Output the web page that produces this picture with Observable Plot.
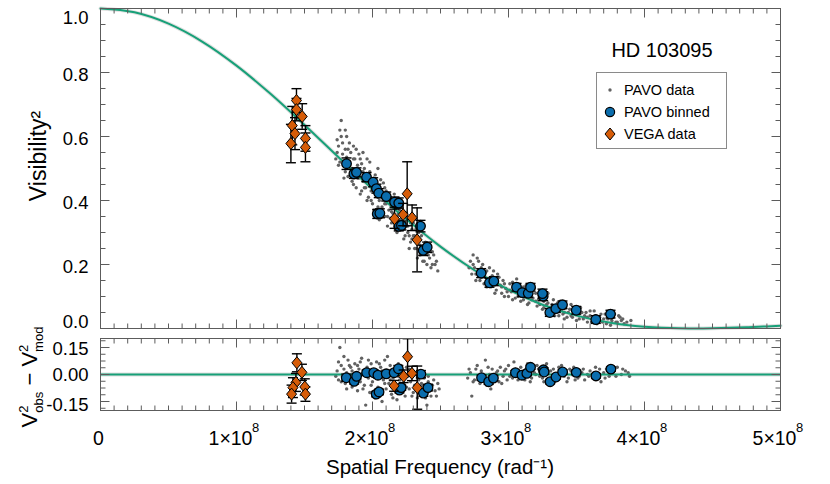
<!DOCTYPE html>
<html><head><meta charset="utf-8">
<script src="https://cdn.jsdelivr.net/npm/d3@7"></script>
<script src="https://cdn.jsdelivr.net/npm/@observablehq/plot@0.6"></script>
<style>
body{margin:0;background:#fff;}
#chart{width:830px;height:484px;position:relative;}
#chart svg{display:block;}
</style></head><body><div id="chart"></div>
<script>
// ---------- data (spatial frequency in units of 1e8 rad^-1) ----------
const xTickValues = [0, 1, 2, 3, 4, 5];
const xTickMantissa = ["0", "1×10", "2×10", "3×10", "4×10", "5×10"];
const xTickExponent = ["", "8", "8", "8", "8", "8"];
const yTickValuesTop = [0, 0.2, 0.4, 0.6, 0.8, 1.0];
const yTickLabelsTop = ["0.0", "0.2", "0.4", "0.6", "0.8", "1.0"];
const yTickValuesBot = [-0.15, 0, 0.15];
const yTickLabelsBot = ["-0.15", "0.00", "0.15"];

const modelX  = [0,0.25,0.5,0.75,1,1.25,1.5,1.75,2,2.25,2.5,2.75,3,3.25,3.5,3.75,4,4.125,4.25,4.375,4.5,4.625,4.75,4.875,5];
const modelV2 = [1,0.988,0.9526,0.896,0.8215,0.7333,0.6362,0.5353,0.4355,0.3412,0.2558,0.1821,0.1215,0.0744,0.0403,0.0179,0.0054,0.0021,0.0004,0.0000,0.0006,0.0020,0.0039,0.0061,0.0085];

const pavoData = [
[1.73,0.53],[1.74,0.55],[1.75,0.57],[1.76,0.52],[1.77,0.65],[1.77,0.60],[1.78,0.545],[1.79,0.51],[1.80,0.56],[1.80,0.49],
[1.81,0.535],[1.81,0.60],[1.82,0.475],[1.83,0.52],[1.84,0.55],[1.85,0.50],[1.85,0.46],[1.86,0.57],[1.87,0.49],[1.87,0.53],
[1.88,0.44],[1.89,0.51],[1.90,0.47],[1.90,0.545],[1.91,0.49],[1.92,0.43],[1.92,0.515],[1.93,0.46],[1.94,0.50],[1.95,0.44],
[1.95,0.475],[1.96,0.53],[1.97,0.41],[1.97,0.46],[1.98,0.49],[1.99,0.43],[2.00,0.45],[2.00,0.39],[2.01,0.47],[2.02,0.42],
[2.03,0.36],[2.03,0.44],[2.04,0.50],[2.05,0.40],[2.05,0.34],[2.06,0.43],[2.07,0.38],[2.08,0.455],[2.08,0.41],[2.09,0.35],
[2.10,0.39],[2.10,0.43],[2.11,0.32],[2.12,0.37],[2.13,0.41],[2.13,0.345],[2.14,0.39],[2.15,0.36],[2.16,0.42],[2.16,0.33],
[2.17,0.375],[2.18,0.30],[2.18,0.35],[2.19,0.40],[2.20,0.34],[2.20,0.37],[2.21,0.31],[2.22,0.35],[2.22,0.39],[2.23,0.28],
[2.24,0.33],[2.25,0.36],[2.26,0.30],[2.26,0.32],[2.27,0.345],[2.28,0.27],[2.29,0.31],[2.30,0.33],[2.30,0.29],[2.31,0.25],
[2.32,0.31],[2.33,0.27],[2.34,0.30],[2.35,0.23],[2.35,0.26],[2.36,0.29],[2.37,0.245],[2.38,0.21],[2.39,0.27],[2.40,0.235],
[2.41,0.26],[2.42,0.22],[2.43,0.24],[2.44,0.20],[2.45,0.23],[2.47,0.21],
[1.74,0.59],[1.75,0.51],[1.76,0.62],[1.78,0.58],[1.79,0.47],[1.80,0.62],[1.82,0.56],[1.82,0.51],[1.83,0.58],[1.84,0.48],
[1.86,0.53],[1.86,0.45],[1.88,0.56],[1.88,0.50],[1.89,0.47],[1.91,0.53],[1.91,0.42],[1.93,0.55],[1.93,0.49],[1.94,0.44],
[1.96,0.47],[1.96,0.40],[1.98,0.52],[1.98,0.445],[1.99,0.40],[2.01,0.43],[2.01,0.37],[2.02,0.48],[2.04,0.41],[2.04,0.38],
[2.06,0.465],[2.06,0.36],[2.07,0.42],[2.09,0.44],[2.09,0.39],[2.11,0.41],[2.11,0.35],[2.12,0.42],[2.14,0.33],[2.14,0.365],
[2.15,0.40],[2.17,0.34],[2.17,0.31],[2.19,0.36],[2.19,0.32],[2.21,0.38],[2.21,0.34],[2.23,0.36],[2.23,0.31],[2.24,0.29],
[2.25,0.32],[2.27,0.29],[2.27,0.25],[2.28,0.33],[2.29,0.28],[2.31,0.29],[2.32,0.25],[2.33,0.22],[2.34,0.28],[2.36,0.24],
[2.37,0.21],[2.38,0.26],[2.40,0.20],[2.41,0.23],[2.43,0.19],[2.44,0.24],[2.46,0.20],[2.48,0.18],
[2.72,0.21],[2.73,0.17],[2.75,0.19],[2.76,0.15],[2.77,0.22],[2.78,0.18],[2.80,0.16],[2.81,0.20],[2.82,0.14],[2.83,0.175],
[2.85,0.155],[2.86,0.19],[2.87,0.13],[2.88,0.165],[2.90,0.145],[2.91,0.12],[2.92,0.17],[2.94,0.135],[2.95,0.11],[2.96,0.15],
[2.98,0.125],[3.00,0.10],[3.01,0.14],[3.02,0.115],[3.04,0.13],[3.05,0.095],[3.06,0.155],[3.08,0.11],[3.09,0.085],[3.10,0.12],
[3.12,0.10],[3.13,0.135],[3.15,0.08],[3.16,0.11],[3.18,0.095],[3.19,0.125],[3.21,0.07],[3.22,0.09],[3.24,0.105],[3.25,0.06],
[3.26,0.085],[3.28,0.075],[3.29,0.11],[3.30,0.05],[3.31,0.065],[3.33,0.09],[3.34,0.04],[3.35,0.07],[3.37,0.055],[3.38,0.085],
[3.40,0.045],[3.41,0.03],[3.42,0.065],[3.44,0.05],[3.46,0.075],[3.47,0.035],[3.49,0.055],[3.50,0.025],[3.52,0.045],[3.53,0.065],
[3.55,0.03],[3.57,0.05],[3.58,0.02],[3.60,0.04],[3.62,0.025],[3.63,0.055],[3.65,0.015],[3.67,0.035],[3.69,0.02],[3.71,0.045],
[3.73,0.03],[3.75,0.01],[3.77,0.035],[3.79,0.02],[3.81,0.04],[3.83,0.025],[3.85,0.015],
[2.71,0.19],[2.74,0.23],[2.74,0.20],[2.76,0.17],[2.78,0.21],[2.79,0.15],[2.80,0.19],[2.82,0.17],[2.84,0.13],[2.84,0.18],
[2.86,0.15],[2.88,0.14],[2.89,0.18],[2.90,0.11],[2.92,0.14],[2.93,0.16],[2.95,0.13],[2.97,0.10],[2.97,0.14],[2.99,0.115],
[3.01,0.12],[3.03,0.145],[3.03,0.09],[3.05,0.12],[3.07,0.10],[3.07,0.135],[3.09,0.115],[3.11,0.09],[3.11,0.13],[3.14,0.105],
[3.14,0.075],[3.17,0.09],[3.17,0.12],[3.20,0.085],[3.20,0.11],[3.23,0.075],[3.23,0.095],[3.26,0.065],[3.27,0.10],[3.29,0.08],
[3.31,0.045],[3.32,0.075],[3.34,0.06],[3.36,0.08],[3.37,0.04],[3.39,0.06],[3.41,0.05],[3.43,0.035],[3.45,0.06],[3.46,0.04],
[3.48,0.065],[3.50,0.045],[3.52,0.03],[3.54,0.05],[3.56,0.04],[3.58,0.035],[3.60,0.055],[3.61,0.02],[3.64,0.04],[3.66,0.025],
[3.68,0.045],[3.70,0.03],[3.72,0.015],[3.74,0.035],[3.76,0.025],[3.78,0.045],[3.80,0.02],[3.82,0.035],[3.84,0.03],[3.87,0.02],[3.90,0.025]
];

const pavoResid = [
[1.74,0.02],[1.75,-0.03],[1.76,0.15],[1.77,0.05],[1.78,-0.01],[1.79,0.03],[1.80,-0.05],[1.81,0.01],[1.82,0.08],[1.83,-0.03],
[1.84,0.04],[1.85,-0.07],[1.86,0.00],[1.87,0.06],[1.88,-0.02],[1.89,-0.09],[1.90,0.03],[1.91,-0.04],[1.92,0.09],[1.93,0.01],
[1.94,-0.06],[1.95,-0.17],[1.96,0.04],[1.97,-0.02],[1.98,-0.10],[1.99,0.06],[2.00,-0.04],[2.01,0.02],[2.02,-0.13],[2.03,0.07],
[2.04,-0.07],[2.05,-0.01],[2.06,0.04],[2.07,-0.15],[2.08,-0.03],[2.09,0.08],[2.10,-0.08],[2.11,0.01],[2.12,-0.05],[2.13,0.05],
[2.14,-0.11],[2.15,-0.02],[2.16,0.03],[2.17,-0.07],[2.18,-0.14],[2.19,0.06],[2.20,-0.03],[2.21,-0.09],[2.22,0.02],[2.23,-0.05],
[2.24,-0.12],[2.25,0.04],[2.26,-0.01],[2.27,-0.08],[2.28,-0.04],[2.29,0.02],[2.30,-0.10],[2.31,-0.06],[2.32,0.00],[2.33,-0.13],
[2.34,-0.03],[2.35,-0.08],[2.36,-0.05],[2.37,-0.11],[2.38,-0.02],[2.39,-0.07],[2.40,-0.10],[2.41,-0.04],[2.42,-0.08],[2.44,-0.06],
[2.46,-0.09],[2.48,-0.05],
[1.73,-0.01],[1.75,0.07],[1.77,-0.04],[1.79,0.10],[1.81,-0.08],[1.83,0.05],[1.85,0.02],[1.87,-0.04],[1.89,0.05],[1.91,0.07],
[1.93,-0.08],[1.95,0.02],[1.97,0.08],[1.99,-0.06],[2.01,-0.11],[2.03,0.00],[2.05,0.06],[2.07,0.02],[2.09,-0.05],[2.11,0.10],
[2.13,-0.03],[2.15,-0.13],[2.17,0.03],[2.19,-0.01],[2.21,0.05],[2.23,0.01],[2.25,-0.07],[2.27,0.03],[2.29,-0.12],[2.31,0.01],
[2.33,-0.02],[2.35,0.02],[2.37,-0.06],[2.39,-0.13],[2.41,-0.01],[2.43,-0.12],[2.45,-0.03],[2.47,-0.12],[2.49,-0.08],[2.40,-0.17],
[2.70,-0.02],[2.72,0.01],[2.73,-0.12],[2.75,-0.03],[2.76,0.03],[2.78,-0.01],[2.79,-0.05],[2.80,0.02],[2.82,-0.03],[2.83,0.08],
[2.84,-0.06],[2.86,0.00],[2.87,-0.08],[2.88,0.03],[2.90,-0.02],[2.91,0.01],[2.93,-0.04],[2.94,0.04],[2.96,-0.01],[2.97,0.02],
[2.99,-0.03],[3.00,0.05],[3.02,0.00],[3.03,-0.02],[3.05,0.03],[3.06,0.01],[3.08,-0.01],[3.09,0.04],[3.11,0.02],[3.12,-0.03],
[3.14,0.06],[3.15,0.01],[3.17,-0.02],[3.18,0.03],[3.20,0.00],[3.21,0.05],[3.23,-0.01],[3.24,0.02],[3.26,-0.04],[3.27,0.04],
[3.29,0.01],[3.30,-0.06],[3.32,-0.02],[3.33,0.03],[3.35,0.00],[3.36,-0.03],[3.38,0.02],[3.39,0.05],[3.41,-0.01],[3.42,0.01],
[3.44,-0.02],[3.45,0.03],[3.47,0.00],[3.49,-0.03],[3.50,0.02],[3.52,-0.01],[3.54,0.01],[3.56,-0.03],[3.58,0.00],[3.60,0.02],
[3.62,-0.02],[3.64,0.04],[3.66,0.00],[3.68,-0.04],[3.70,0.01],[3.72,0.03],[3.74,-0.01],[3.77,0.02],[3.80,0.04],[3.83,0.00],
[3.86,0.02],[3.89,-0.01],
[2.71,0.03],[2.74,-0.04],[2.77,0.05],[2.81,-0.02],[2.85,0.04],[2.89,-0.03],[2.92,0.02],[2.95,-0.05],[2.98,0.03],[3.01,-0.01],
[3.04,0.07],[3.07,-0.03],[3.10,0.01],[3.13,0.03],[3.16,-0.04],[3.19,0.01],[3.22,0.03],[3.25,-0.02],[3.28,0.06],[3.31,0.02],
[3.34,-0.04],[3.37,0.04],[3.40,0.00],[3.43,-0.04],[3.46,0.02],[3.48,0.04],[3.51,-0.02],[3.55,0.03],[3.59,-0.01],[3.63,0.01],
[3.67,0.03],[3.71,-0.02],[3.75,0.01],[3.79,-0.01],[3.84,0.03],[3.88,0.01]
];

const binX   = [1.809,1.863,1.882,1.956,2.005,2.029,2.046,2.101,2.162,2.193,2.035,2.054,2.193,2.213,2.353,2.373,2.402,2.799,2.860,2.892,3.059,3.101,3.145,3.162,3.255,3.250,3.304,3.348,3.397,3.498,3.642,3.750];
const binV2  = [0.515,0.483,0.488,0.473,0.457,0.437,0.423,0.4125,0.395,0.392,0.358,0.360,0.319,0.322,0.320,0.244,0.254,0.173,0.143,0.148,0.129,0.112,0.110,0.129,0.101,0.109,0.050,0.062,0.074,0.057,0.028,0.045];
const binErr = [0.018,0.014,0.014,0.014,0.014,0.014,0.014,0.014,0.016,0.016,0.014,0.014,0.014,0.014,0.018,0.016,0.016,0.014,0.014,0.014,0.012,0.012,0.012,0.012,0.014,0.014,0.012,0.012,0.012,0.012,0.012,0.012];

const vegaX   = [1.441,1.441,1.483,1.410,1.430,1.400,1.507,1.507,2.255,2.162,2.225,2.291,2.328];
const vegaV2  = [0.7125,0.684,0.6625,0.634,0.609,0.578,0.594,0.566,0.421,0.343,0.356,0.346,0.277];
const vegaErr = [0.037,0.035,0.040,0.060,0.050,0.060,0.040,0.045,0.100,0.030,0.035,0.040,0.100];

const resBinX   = [1.807,1.865,1.883,1.957,2.009,2.040,2.101,2.159,2.190,2.027,2.048,2.198,2.211,2.356,2.374,2.408,2.802,2.854,2.889,3.051,3.099,3.135,3.162,3.257,3.262,3.306,3.349,3.398,3.498,3.643,3.753];
const resBin    = [-0.018,-0.038,-0.010,0.010,0.010,-0.004,0.004,0.010,0.032,-0.109,-0.097,-0.087,-0.073,0.002,-0.103,-0.073,-0.018,-0.040,-0.020,0.010,-0.004,0.006,0.040,0.026,0.014,-0.040,-0.014,0.014,0.012,-0.008,0.030];
const resBinErr = [0.02,0.015,0.015,0.015,0.015,0.015,0.015,0.015,0.018,0.015,0.015,0.015,0.015,0.02,0.018,0.018,0.015,0.015,0.015,0.012,0.012,0.012,0.012,0.012,0.012,0.012,0.012,0.012,0.012,0.012,0.012];

const resVegaX   = [1.444,1.481,1.437,1.415,1.405,1.502,1.507,2.258,2.290,2.229,2.159,2.329];
const resVega    = [0.065,0.012,-0.044,-0.073,-0.109,-0.069,-0.109,0.099,0.006,-0.010,-0.063,-0.073];
const resVegaErr = [0.050,0.045,0.050,0.055,0.050,0.045,0.040,0.100,0.040,0.035,0.030,0.120];

const legendLabels = ["PAVO data", "PAVO binned", "VEGA data"];
const starName = "HD 103095";

// ---------- styles ----------
const FONT = '"Liberation Sans", Arial, Helvetica, sans-serif';
const cGreen = "#17a078", cBlue = "#0a6dad", cOrange = "#d65c08", cGrey = "#626262", cAxis = "#5c5c5c", cBand = "#e0e0e0";

const seg = (dx, dy) => ({draw(ctx) { ctx.moveTo(0, 0); ctx.lineTo(dx, dy); }});
const cap = (w) => ({draw(ctx) { ctx.moveTo(-w, 0); ctx.lineTo(w, 0); }});
const DIA = "M0,-6L5,0L0,6L-5,0Z";
const diamond = {draw(ctx) { ctx.moveTo(0, -6); ctx.lineTo(5, 0); ctx.lineTo(0, 6); ctx.lineTo(-5, 0); ctx.closePath(); }};

// ---------- tables ----------
const model = modelX.map((x, i) => ({x, v: modelV2[i]}));
const pavo = pavoData.map(([x, v]) => ({x, v}));
const pavoR = pavoResid.map(([x, v]) => ({x, v}));
const binned = binX.map((x, i) => ({x, v: binV2[i], lo: binV2[i] - binErr[i], hi: binV2[i] + binErr[i]}));
const vega = vegaX.map((x, i) => ({x, v: vegaV2[i], lo: vegaV2[i] - vegaErr[i], hi: vegaV2[i] + vegaErr[i]}));
const binnedR = resBinX.map((x, i) => ({x, v: resBin[i], lo: resBin[i] - resBinErr[i], hi: resBin[i] + resBinErr[i]}));
const vegaR = resVegaX.map((x, i) => ({x, v: resVega[i], lo: resVega[i] - resVegaErr[i], hi: resVega[i] + resVegaErr[i]}));

const xMinor = d3.range(0, 51).map(i => i / 10);

function frameTicks(yMajor, yMinor, y0, y1) {
  const tk = (data, acc, sym) => Plot.dot(data, {...acc, symbol: sym, stroke: cAxis, fill: "none", strokeWidth: 1, r: 3});
  return [
    tk(xMinor, {x: d => d, y: () => y0}, seg(0, -5)),
    tk(xTickValues, {x: d => d, y: () => y0}, seg(0, -9)),
    tk(xMinor, {x: d => d, y: () => y1}, seg(0, 5)),
    tk(xTickValues, {x: d => d, y: () => y1}, seg(0, 9)),
    tk(yMinor, {x: () => 0, y: d => d}, seg(5, 0)),
    tk(yMajor, {x: () => 0, y: d => d}, seg(9, 0)),
    tk(yMinor, {x: () => 5, y: d => d}, seg(-5, 0)),
    tk(yMajor, {x: () => 5, y: d => d}, seg(-9, 0))
  ];
}

function errorMarks(data, w) {
  return [
    Plot.ruleX(data, {x: "x", y1: "lo", y2: "hi", stroke: "#000", strokeWidth: 1.4}),
    Plot.dot(data, {x: "x", y: "hi", symbol: cap(w), stroke: "#000", fill: "none", strokeWidth: 1.4, r: 3}),
    Plot.dot(data, {x: "x", y: "lo", symbol: cap(w), stroke: "#000", fill: "none", strokeWidth: 1.4, r: 3})
  ];
}

const topLabel = (vals, dy) => Plot.axisY(vals, {anchor: "left", tickSize: 0, tickPadding: 12, dy, label: null,
  tickFormat: d => yTickLabelsTop[yTickValuesTop.indexOf(d)], fontSize: 18.5});
const botLabel = (vals, dy) => Plot.axisY(vals, {anchor: "left", tickSize: 0, tickPadding: 12, dy, label: null,
  tickFormat: d => yTickLabelsBot[yTickValuesBot.indexOf(d)], fontSize: 18.5});

const topPlot = Plot.plot({
  width: 830, height: 332, marginLeft: 100, marginRight: 50, marginTop: 8, marginBottom: 4,
  x: {domain: [0, 5], axis: null},
  y: {domain: [0, 1], axis: null},
  style: {fontFamily: FONT, fontSize: "18px", color: "#000", background: "#fff", overflow: "visible"},
  marks: [
    Plot.line(model, {x: "x", y: "v", stroke: cBand, strokeWidth: 4, curve: "monotone-x"}),
    Plot.dot(pavo, {x: "x", y: "v", r: 1.7, fill: cGrey}),
    Plot.line(model, {x: "x", y: "v", stroke: cGreen, strokeWidth: 2, curve: "monotone-x"}),
    ...errorMarks(binned, 5),
    Plot.dot(binned, {x: "x", y: "v", r: 4.8, fill: cBlue, stroke: "#000", strokeWidth: 1.3}),
    ...errorMarks(vega, 5),
    Plot.dot(vega, {x: "x", y: "v", symbol: diamond, fill: cOrange, stroke: "#000", strokeWidth: 1, r: 4}),
    Plot.frame({stroke: cAxis, strokeWidth: 1}),
    ...frameTicks(yTickValuesTop, d3.range(0, 21).map(i => i * 0.05), 0, 1),
    topLabel([0.2, 0.4, 0.6, 0.8], 3),
    topLabel([1.0], 10),
    topLabel([0], -6)
  ]
});

const botPlot = Plot.plot({
  width: 830, height: 152, marginLeft: 100, marginRight: 50, marginTop: 6, marginBottom: 74,
  x: {domain: [0, 5], axis: null},
  y: {domain: [-0.2, 0.2], axis: null},
  style: {fontFamily: FONT, fontSize: "18px", color: "#000", background: "#fff", overflow: "visible"},
  marks: [
    Plot.ruleY([0], {stroke: cBand, strokeWidth: 4}),
    Plot.dot(pavoR, {x: "x", y: "v", r: 1.7, fill: cGrey}),
    Plot.ruleY([0], {stroke: cGreen, strokeWidth: 2}),
    ...errorMarks(binnedR, 5),
    Plot.dot(binnedR, {x: "x", y: "v", r: 4.8, fill: cBlue, stroke: "#000", strokeWidth: 1.3}),
    ...errorMarks(vegaR, 5),
    Plot.dot(vegaR, {x: "x", y: "v", symbol: diamond, fill: cOrange, stroke: "#000", strokeWidth: 1, r: 4}),
    Plot.frame({stroke: cAxis, strokeWidth: 1}),
    ...frameTicks(yTickValuesBot, d3.range(-5, 6).map(i => i * 0.0375), -0.2, 0.2),
    botLabel([0.15], 2),
    botLabel([0], 1),
    botLabel([-0.15], 4),
    Plot.axisX([0], {anchor: "bottom", tickSize: 0, tickPadding: 21, label: null, fontSize: 19.5, dx: -2,
      tickFormat: d => xTickMantissa[xTickValues.indexOf(d)]}),
    Plot.axisX(xTickValues.slice(1), {anchor: "bottom", tickSize: 0, tickPadding: 21, label: null, fontSize: 19.5, dx: -6,
      tickFormat: d => xTickMantissa[xTickValues.indexOf(d)]}),
    Plot.axisX(xTickValues.slice(1), {anchor: "bottom", tickSize: 0, tickPadding: 12, label: null, fontSize: 13, dx: 19,
      tickFormat: d => xTickExponent[xTickValues.indexOf(d)]})
  ]
});

const root = document.getElementById("chart");
root.append(topPlot, botPlot);

// ---------- titles, legend ----------
const ts = d3.select(topPlot);
ts.append("text").attr("x", 662).attr("y", 57).attr("text-anchor", "middle")
  .attr("font-family", FONT).attr("font-size", 20).attr("fill", "#000").text(starName);

const lg = ts.append("g").attr("font-family", FONT).attr("font-size", 14.5).attr("text-anchor", "start");
lg.append("rect").attr("x", 596.5).attr("y", 72.5).attr("width", 130).attr("height", 76)
  .attr("fill", "#fff").attr("stroke", "#8a8a8a").attr("stroke-width", 1);
const ly = [90, 112, 134];
lg.append("circle").attr("cx", 610).attr("cy", ly[0]).attr("r", 1.7).attr("fill", cGrey);
lg.append("circle").attr("cx", 610).attr("cy", ly[1]).attr("r", 4.6).attr("fill", cBlue).attr("stroke", "#000").attr("stroke-width", 1.2);
lg.append("path").attr("transform", `translate(610,${ly[2]})`).attr("d", DIA)
  .attr("fill", cOrange).attr("stroke", "#000").attr("stroke-width", 1);
legendLabels.forEach((t, i) => lg.append("text").attr("x", 624).attr("y", ly[i]).attr("dy", "0.36em").attr("fill", "#000").text(t));

ts.append("text").attr("transform", "translate(46,156) rotate(-90)").attr("text-anchor", "middle")
  .attr("font-family", FONT).attr("font-size", 23).attr("fill", "#000").text("Visibility²");

const bs = d3.select(botPlot);
bs.append("text").attr("x", 440).attr("y", 142).attr("text-anchor", "middle")
  .attr("font-family", FONT).attr("font-size", 20.5).attr("fill", "#000").text("Spatial Frequency (rad⁻¹)");

const bt = bs.append("text").attr("transform", "translate(37,45) rotate(-90)").attr("text-anchor", "middle")
  .attr("font-family", FONT).attr("font-size", 22).attr("fill", "#000");
bt.append("tspan").text("V");
bt.append("tspan").attr("font-size", 13).attr("dy", -9).text("2");
bt.append("tspan").attr("font-size", 13).attr("dx", -7.2).attr("dy", 15).text("obs");
bt.append("tspan").attr("dy", -6).text(" − V");
bt.append("tspan").attr("font-size", 13).attr("dy", -9).text("2");
bt.append("tspan").attr("font-size", 13).attr("dx", -7.2).attr("dy", 15).text("mod");
</script>
</body></html>
